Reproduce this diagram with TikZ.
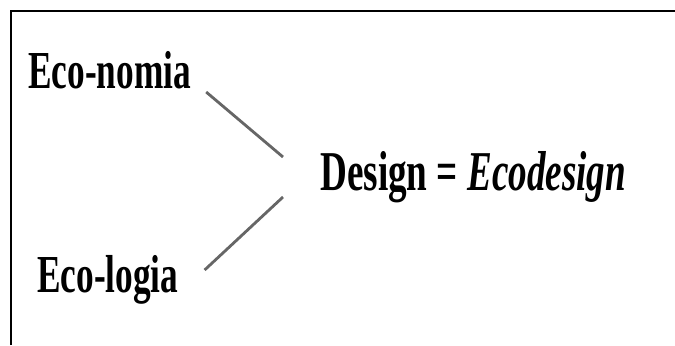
\documentclass[tikz,border=0pt]{standalone}
\usepackage{fontspec}
\setmainfont{Liberation Serif}
\newfontfamily\condserif[FakeStretch=0.66]{Liberation Serif}
\usetikzlibrary{calc}
\begin{document}
\begin{tikzpicture}[x=0.025cm,y=-0.025cm,
  word/.style={anchor=base west,inner sep=0pt,font=\condserif\bfseries\fontsize{38}{42}\selectfont},
  link/.style={draw=black!60,line width=2pt}]
\useasboundingbox (0,0) rectangle (675,345);
\draw[line width=1.6pt] (11,345)--(11,11)--(675,11);
\node[word] (econ) at (28,88) {Eco-nomia};
\node[word] (ecol) at (37,292) {Eco-logia};
\node[word,font=\condserif\bfseries\fontsize{40}{44}\selectfont] (design) at (320,190) {Design = \textit{Ecodesign}};
\draw[link] ($(econ.base east)+(15,4)$)--($(design.base west)+(-37,-33)$);
\draw[link] ($(ecol.base east)+(26,-22)$)--($(design.base west)+(-37,7)$);

\end{tikzpicture}
\end{document}
